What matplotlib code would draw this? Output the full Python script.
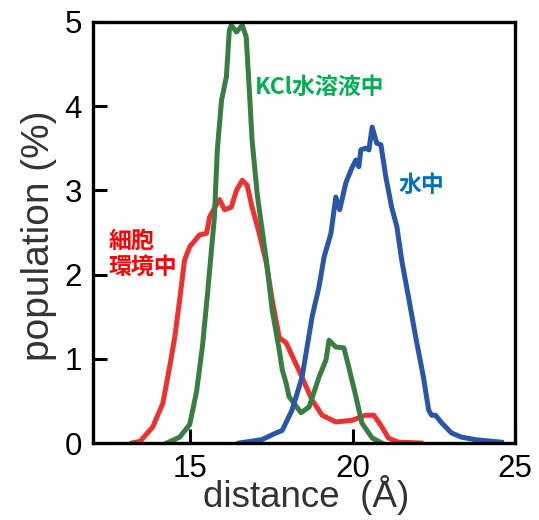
import matplotlib
matplotlib.use('Agg')
import matplotlib.pyplot as plt

# ======== Данные ========

# красная кривая: клеточная среда
red_x = [13.2, 13.45, 13.84, 14.15, 14.36, 14.52, 14.67, 14.82, 14.98, 15.28, 15.5, 15.59,
         15.8, 15.9, 16.05, 16.26, 16.42, 16.6, 16.75, 16.9, 17.12, 17.34, 17.52, 17.74,
         17.95, 18.13, 18.44, 18.75, 19.06, 19.48, 19.98, 20.4, 20.65, 20.87, 21.1, 21.4, 22.1]
red_y = [0.0, 0.02, 0.19, 0.47, 0.9, 1.26, 1.70, 2.17, 2.33, 2.47, 2.49, 2.68,
         2.83, 2.89, 2.77, 2.80, 3.0, 3.12, 3.06, 2.8, 2.49, 2.14, 1.70, 1.25,
         1.19, 1.04, 0.78, 0.51, 0.33, 0.25, 0.27, 0.33, 0.33, 0.21, 0.06, 0.01, 0.0]

# зелёная кривая: раствор KCl
green_x = [14.27, 14.67, 14.98, 15.19, 15.37, 15.53, 15.74, 15.83, 15.96, 16.11, 16.2, 16.26,
           16.42, 16.6, 16.72, 16.82, 16.9, 17.06, 17.34, 17.52, 17.74, 17.83, 17.95, 18.04,
           18.41, 18.66, 18.96, 19.18, 19.27, 19.48, 19.73, 19.88, 20.1, 20.28, 20.6, 20.9]
green_y = [0.0, 0.07, 0.22, 0.61, 1.14, 1.78, 2.68, 3.48, 4.07, 4.35, 4.9, 4.96,
           4.88, 4.96, 4.82, 4.16, 3.6, 2.95, 2.17, 1.58, 1.1, 0.87, 0.71, 0.55,
           0.36, 0.43, 0.78, 0.99, 1.22, 1.14, 1.13, 0.9, 0.55, 0.24, 0.06, 0.0]

# синяя кривая: вода
blue_x = [16.5, 17.2, 17.64, 17.83, 18.13, 18.44, 18.75, 18.96, 19.12, 19.33, 19.48, 19.6,
          19.79, 19.98, 20.1, 20.19, 20.25, 20.4, 20.5, 20.6, 20.74, 20.87, 21.02, 21.2,
          21.36, 21.51, 21.72, 21.94, 22.18, 22.34, 22.43, 22.55, 22.74, 23.04, 23.35, 23.78, 24.58]
blue_y = [0.0, 0.04, 0.12, 0.15, 0.39, 0.78, 1.5, 1.85, 2.21, 2.49, 2.92, 2.77,
          3.09, 3.27, 3.36, 3.28, 3.48, 3.5, 3.48, 3.75, 3.56, 3.54, 3.16, 2.8,
          2.57, 2.17, 1.73, 1.26, 0.78, 0.39, 0.33, 0.33, 0.24, 0.12, 0.07, 0.04, 0.01]

x_ticks = [15, 20, 25]
y_ticks = [0, 1, 2, 3, 4, 5]

plt.rcParams['font.family'] = ['Liberation Sans', 'DejaVu Sans']
cjk = ['Noto Sans CJK JP', 'DejaVu Sans']

fig = plt.figure(figsize=(5.39, 5.20), dpi=100)
ax = fig.add_axes([0.1725, 0.148, 0.783, 0.81])

ax.plot(red_x, red_y, color='#ee3030', lw=3.6, solid_joinstyle='round')
ax.plot(green_x, green_y, color='#3a7d44', lw=3.6, solid_joinstyle='round')
ax.plot(blue_x, blue_y, color='#2a56a8', lw=3.6, solid_joinstyle='round')

ax.set_xlim(12, 25)
ax.set_ylim(0, 5)
ax.set_xticks(x_ticks)
ax.set_yticks(y_ticks)

for sp in ax.spines.values():
    sp.set_linewidth(2.4)
ax.tick_params(direction='in', length=10, width=2.2, labelsize=22.5, pad=8,
               top=False, right=False)

ax.set_xlabel('distance  (Å)', fontsize=26.5, color='#333333', va='center')
ax.set_ylabel('population (%)', fontsize=28, color='#333333', va='center')
ax.xaxis.set_label_coords(0.505, -0.124)
ax.yaxis.set_label_coords(-0.128, 0.492)

# подписи кривых
ax.text(12.49, 2.24, '細胞\n環境中', color='#ff0000', fontsize=16.5, fontweight='bold',
        family=cjk, linespacing=1.15, va='center', ha='left')
ax.text(17.0, 4.22, 'KCl水溶液中', color='#00b050', fontsize=16.5, fontweight='bold',
        family=cjk, va='center', ha='left')
ax.text(21.42, 3.06, '水中', color='#0070c0', fontsize=16.5, fontweight='bold',
        family=cjk, va='center', ha='left')

plt.savefig('out.png', dpi=100)
